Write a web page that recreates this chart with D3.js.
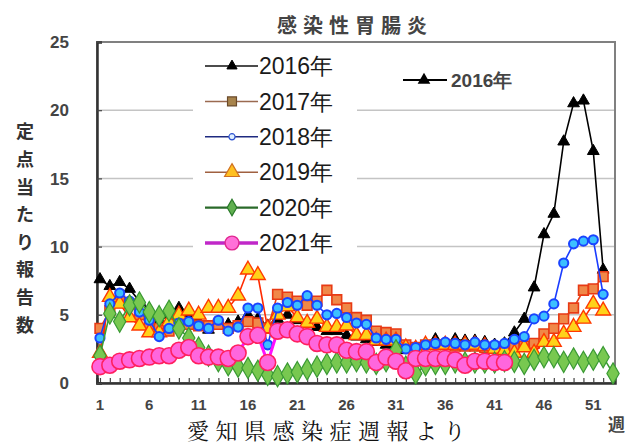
<!DOCTYPE html>
<html><head><meta charset="utf-8">
<script src="https://cdn.jsdelivr.net/npm/d3@7"></script>
<style>
html,body{margin:0;padding:0;background:#fff;}
svg{display:block;}
</style></head>
<body>
<svg id="c" width="625" height="444"></svg>
<script>
const weeks52 = d3.range(1, 53);
const weeks53 = d3.range(1, 54);
const weeks42 = d3.range(1, 43);

const y2016 = [7.6,7.1,7.4,6.9,6.0,5.4,4.6,5.0,5.5,4.9,4.5,3.9,4.2,4.3,4.5,5.0,4.7,4.2,4.7,5.0,4.6,4.3,4.1,3.8,3.8,3.5,3.4,3.2,3.0,2.8,2.6,2.4,2.6,2.8,3.2,2.9,3.2,3.1,3.1,3.0,2.8,2.9,3.7,4.7,7.0,10.9,12.4,17.7,20.5,20.7,17.0,8.3];
const y2017 = [4.0,5.3,6.0,5.8,5.0,4.3,4.0,3.8,4.2,4.3,4.2,4.2,4.3,4.0,4.2,4.5,4.4,4.0,6.5,6.3,6.0,5.7,6.0,6.8,6.1,5.5,4.8,4.6,3.8,3.7,3.6,2.8,2.6,2.8,2.8,2.8,2.7,2.7,2.7,2.6,2.6,2.6,2.6,2.7,2.9,3.6,4.0,4.7,5.5,6.8,6.9,7.8];
const y2018 = [3.3,5.8,6.6,6.0,5.2,4.6,3.4,4.0,4.4,4.5,4.2,4.0,4.6,3.8,4.1,5.5,5.5,2.8,5.5,5.9,5.7,6.4,5.7,5.0,5.1,4.8,4.4,4.3,3.3,3.2,3.2,2.5,2.6,2.8,2.9,3.0,2.9,2.8,3.0,2.8,2.8,2.9,3.2,3.4,4.7,4.9,5.8,8.8,10.2,10.4,10.5,6.5];
const y2019 = [2.2,6.3,5.8,4.8,4.2,3.7,3.7,4.5,5.0,5.3,5.0,5.5,5.5,5.5,6.4,8.3,7.9,4.0,5.0,5.6,4.8,4.4,4.7,4.1,4.1,4.2,3.5,3.5,3.1,3.1,3.1,2.6,2.5,2.8,2.8,2.8,2.8,2.8,2.8,2.7,2.5,2.4,2.2,2.6,2.2,3.0,3.0,3.6,4.1,4.7,5.8,5.3];
const y2020 = [2.0,5.1,4.5,5.7,5.9,5.2,4.9,5.3,4.0,3.3,2.6,2.0,1.6,1.3,1.2,1.1,0.9,0.6,0.5,0.7,0.8,1.0,1.2,1.4,1.5,1.5,1.6,1.5,1.4,1.6,2.4,1.2,0.7,1.3,1.4,1.4,1.5,1.5,1.5,1.5,1.5,1.6,1.55,1.4,1.7,1.9,1.9,1.55,1.8,1.55,1.7,1.9,0.7];
const y2021 = [1.2,1.3,1.6,1.7,1.8,1.9,2.0,2.0,2.4,2.6,2.0,1.9,1.9,1.8,2.2,3.4,3.5,1.5,3.8,3.9,3.6,3.4,2.9,2.8,2.8,2.4,2.3,2.3,1.5,1.9,1.6,0.9,1.8,1.8,1.8,1.8,1.7,1.3,1.6,1.6,1.5,1.5];

const yTicks = [0,5,10,15,20,25];
const xTickLabels = [1,6,11,16,21,26,31,36,41,46,51];
const legendNames = ["2016年","2017年","2018年","2019年","2020年","2021年"];
const titleText = "感染性胃腸炎";
const yTitle = "定点当たり報告数";
const xUnit = "週";
const caption = "愛知県感染症週報より";

const svg = d3.select("#c");
const L = 97, R = 615, T = 42, B = 383;
const x = d3.scaleLinear().domain([0.7, 53.2]).range([L, R]);
const y = d3.scaleLinear().domain([0, 25]).range([B, T]);

// gridlines
svg.append("g").selectAll("line").data(yTicks.filter(d => d > 0 && d < 25)).join("line")
  .attr("x1", L).attr("x2", R).attr("y1", d => y(d)).attr("y2", d => y(d))
  .attr("stroke", "#c4c4c4").attr("stroke-width", 1.5);

// frame
svg.append("rect").attr("x", L).attr("y", T).attr("width", R - L).attr("height", B - T)
  .attr("fill", "none").attr("stroke", "#808080").attr("stroke-width", 2);

// axes
const gx = svg.append("g").attr("transform", `translate(0,${B})`)
  .call(d3.axisBottom(x).tickValues(weeks53).tickSize(-5).tickFormat(""));
gx.select(".domain").attr("stroke", "#333").attr("stroke-width", 2.5);
gx.selectAll(".tick line").attr("stroke", "#444").attr("stroke-width", 1.2);

const gy = svg.append("g").attr("transform", `translate(${L},0)`)
  .call(d3.axisLeft(y).tickValues(yTicks).tickSize(-5).tickFormat(""));
gy.select(".domain").attr("stroke", "#333").attr("stroke-width", 2.5);
gy.selectAll(".tick line").attr("stroke", "#444").attr("stroke-width", 1.2);

// y tick labels
svg.append("g").selectAll("text").data(yTicks).join("text")
  .attr("x", 69).attr("y", d => y(d)).attr("dy", "0.36em")
  .attr("text-anchor", "end").attr("font-family", "Liberation Sans, Arial, sans-serif")
  .attr("font-weight", "bold").attr("font-size", 17).attr("fill", "#444").text(d => d);

// x tick labels
svg.append("g").selectAll("text").data(xTickLabels).join("text")
  .attr("x", d => x(d)).attr("y", 410)
  .attr("text-anchor", "middle").attr("font-family", "Liberation Sans, Arial, sans-serif")
  .attr("font-weight", "bold").attr("font-size", 15).attr("fill", "#444").text(d => d);

// series
const series = [
  {name:"2016", w:weeks52, v:y2016, line:"#000", lw:1.6, sym:d3.symbolTriangle, size:60, fill:"#000", stroke:"#000", sw:1},
  {name:"2017", w:weeks52, v:y2017, line:"#e8401a", lw:1.6, sym:d3.symbolSquare, size:95, fill:"#f08848", stroke:"#e83a14", sw:1.6},
  {name:"2019", w:weeks52, v:y2019, line:"#ff2a00", lw:1.6, sym:d3.symbolTriangle, size:95, fill:"#ffd21a", stroke:"#ff3a00", sw:1.4},
  {name:"2018", w:weeks52, v:y2018, line:"#1a3cff", lw:1.6, sym:d3.symbolCircle, size:66, fill:"#3cc0ff", stroke:"#1a44ff", sw:2},
  {name:"2020", w:weeks53, v:y2020, line:"#3a9e32", lw:1.6, sym:d3.symbolDiamond, size:130, fill:"#78c850", stroke:"#3a9a34", sw:1.2},
  {name:"2021", w:weeks42, v:y2021, line:"#ff10ff", lw:3, sym:d3.symbolCircle, size:200, fill:"#ff66dd", stroke:"#ff2060", sw:1.6}
];
const lineGen = d3.line().x(d => x(d[0])).y(d => y(d[1]));
series.forEach(s => {
  const pts = s.w.map((w, i) => [w, s.v[i]]);
  const g = svg.append("g");
  g.append("path").datum(pts).attr("d", lineGen).attr("fill", "none")
    .attr("stroke", s.line).attr("stroke-width", s.lw);
  g.selectAll("path.m").data(pts).join("path").attr("class", "m")
    .attr("transform", d => `translate(${x(d[0])},${y(d[1])})`)
    .attr("d", d3.symbol().type(s.sym).size(s.size))
    .attr("fill", s.fill).attr("stroke", s.stroke).attr("stroke-width", s.sw);
});

// legend box
const lg = svg.append("g");
lg.append("rect").attr("x", 193).attr("y", 46).attr("width", 164).attr("height", 213).attr("fill", "#fff");
const legStyles = [
  {line:"#111", lw:1.5, sym:d3.symbolTriangle, size:45, fill:"#000", stroke:"#000", sw:1},
  {line:"#9a6a50", lw:1.5, sym:d3.symbolSquare, size:80, fill:"#a8844c", stroke:"#6a4a2a", sw:1.2},
  {line:"#1e2a80", lw:1.5, sym:d3.symbolCircle, size:30, fill:"#dfefff", stroke:"#2a50d0", sw:1.2},
  {line:"#a06040", lw:1.5, sym:d3.symbolTriangle, size:95, fill:"#ffc020", stroke:"#d07020", sw:1.2},
  {line:"#2a6a2a", lw:2.2, sym:d3.symbolDiamond, size:80, fill:"#60b050", stroke:"#2a7a2a", sw:1.2},
  {line:"#c028c8", lw:3.5, sym:d3.symbolCircle, size:150, fill:"#ff70d8", stroke:"#e02890", sw:1.4}
];
const legY = d3.scaleLinear().domain([0, 5]).range([66, 243]);
legendNames.forEach((n, i) => {
  const st = legStyles[i], yy = legY(i);
  lg.append("line").attr("x1", 205).attr("x2", 258).attr("y1", yy).attr("y2", yy)
    .attr("stroke", st.line).attr("stroke-width", st.lw);
  lg.append("path").attr("transform", `translate(232,${yy})`)
    .attr("d", d3.symbol().type(st.sym).size(st.size))
    .attr("fill", st.fill).attr("stroke", st.stroke).attr("stroke-width", st.sw);
  lg.append("text").attr("x", 259).attr("y", yy).attr("dy", "0.36em")
    .attr("font-family", "Liberation Sans Narrow, Liberation Sans, sans-serif")
    .attr("font-size", 23).attr("fill", "#1a1a1a").text(n);
});

// second legend (2016)
svg.append("line").attr("x1", 403).attr("x2", 447).attr("y1", 80).attr("y2", 80)
  .attr("stroke", "#000").attr("stroke-width", 2);
svg.append("path").attr("transform", "translate(424,80)")
  .attr("d", d3.symbol().type(d3.symbolTriangle).size(70)).attr("fill", "#000");
svg.append("text").attr("x", 451).attr("y", 80).attr("dy", "0.36em")
  .attr("font-family", "Liberation Sans Narrow, Liberation Sans, sans-serif")
  .attr("font-weight", "bold").attr("font-size", 19).attr("fill", "#444").text(legendNames[0]);

// title
svg.append("text").attr("x", 355).attr("y", 33).attr("text-anchor", "middle")
  .attr("font-family", "Noto Sans CJK JP, sans-serif").attr("font-weight", "bold")
  .attr("font-size", 20).attr("letter-spacing", 6).attr("fill", "#444").text(titleText);

// y title vertical
svg.append("g").selectAll("text").data(Array.from(yTitle)).join("text")
  .attr("x", 25).attr("y", (d, i) => 132 + i * 27.6).attr("dy", "0.36em")
  .attr("text-anchor", "middle").attr("font-family", "Noto Sans CJK JP, sans-serif")
  .attr("font-weight", "bold").attr("font-size", 18).attr("fill", "#333").text(d => d);

// x unit
svg.append("text").attr("x", 608).attr("y", 431)
  .attr("font-family", "Noto Sans CJK JP, sans-serif").attr("font-weight", "bold")
  .attr("font-size", 17).attr("fill", "#444").text(xUnit);

// caption
svg.append("text").attr("x", 187).attr("y", 439)
  .attr("font-family", "Noto Serif CJK JP, Noto Sans CJK JP, serif")
  .attr("font-size", 22).attr("letter-spacing", 6.5).attr("fill", "#111").text(caption);
</script>
</body></html>
